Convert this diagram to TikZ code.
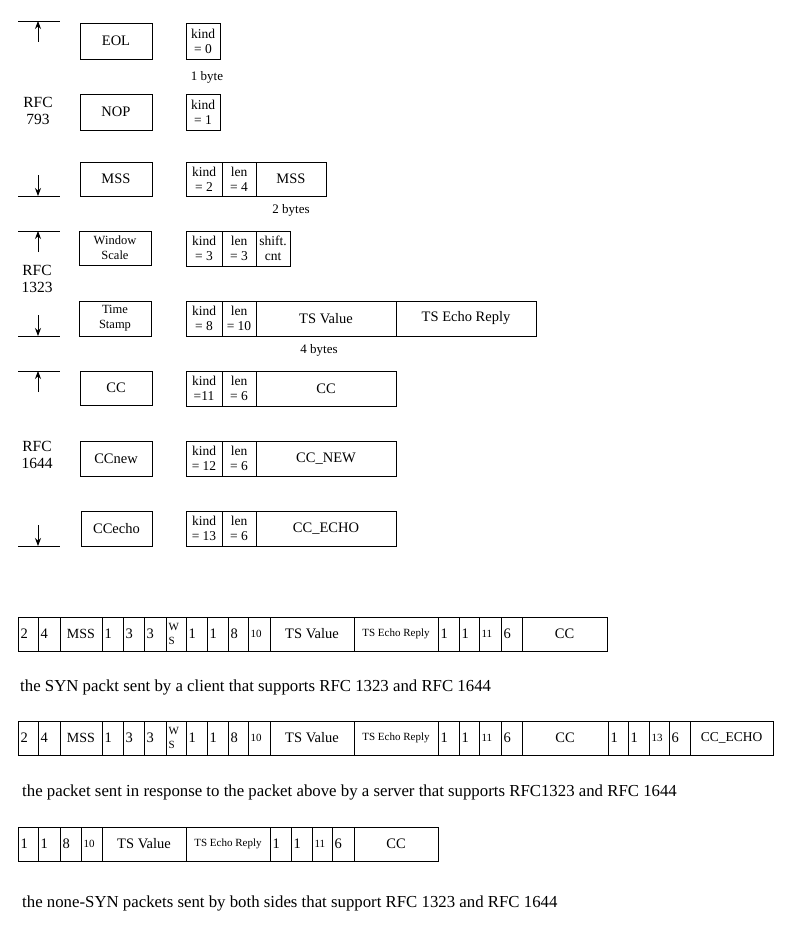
\documentclass[tikz,border=0pt]{standalone}
\usepackage{fontspec}
\setmainfont{Liberation Serif}
\usetikzlibrary{arrows.meta}
\newcommand\fsz[2]{\fontsize{#1}{#2}\selectfont}
% generic box: name, x1, x2, y1, y2, text, extra style
\newcommand\bx[7]{%
  \pgfmathsetmacro\bxw{(#3)-(#2)}\pgfmathsetmacro\bxh{(#5)-(#4)}%
  \node[box,#7,anchor=north west,minimum width=\bxw pt,minimum height=\bxh pt] (#1) at (#2,#4) {#6};}
% left aligned packet cell: name, x1, x2, text
\newcommand\pl[4]{%
  \pgfmathsetmacro\bxw{(#3)-(#2)-5}\pgfmathsetmacro\bxh{\pyb-\pya}%
  \node[box,anchor=north west,align=left,inner xsep=2.5pt,text width=\bxw pt,minimum height=\bxh pt,font=\fsz{14.5}{15}] (#1) at (#2,\pya) {#4};}
% centered packet cell: name, x1, x2, text, font
\newcommand\pcc[5]{%
  \pgfmathsetmacro\bxw{(#3)-(#2)}\pgfmathsetmacro\bxh{\pyb-\pya}%
  \node[box,anchor=north west,minimum width=\bxw pt,minimum height=\bxh pt,font=#5] (#1) at (#2,\pya) {#4};}
\begin{document}
\begin{tikzpicture}[x=1pt,y=-1pt,
  box/.style={draw,line width=0.8pt,inner sep=0pt,outer sep=0pt,align=center},
  big/.style={font=\fsz{14.5}{16}},
  two/.style={font=\fsz{13.5}{15}},
  small/.style={font=\fsz{12.5}{15}},
  lab/.style={inner sep=0pt,font=\fsz{13}{15}},
  rfc/.style={inner sep=0pt,align=center,font=\fsz{15.5}{17}},
  captext/.style={inner sep=0pt,anchor=west,font=\fsz{16.8}{19}},
  rule/.style={line width=0.8pt},
  arr/.style={line width=0.8pt,-{Stealth[length=8pt,width=6pt]}}]
\useasboundingbox (0,0) rectangle (796,939);

% ---------- RFC brackets ----------
\foreach \n/\yt/\yb in {a/21/196, b/231/336, c/371/546}{
  \coordinate (\n tl) at (18,\yt); \coordinate (\n tr) at (60,\yt);
  \coordinate (\n bl) at (18,\yb); \coordinate (\n br) at (60,\yb);
  \coordinate (\n ts) at (38,\yt+21); \coordinate (\n te) at (38,\yt);
  \coordinate (\n bs) at (38,\yb-21); \coordinate (\n be) at (38,\yb);
  \draw[rule] (\n tl) -- (\n tr);
  \draw[rule] (\n bl) -- (\n br);
  \draw[arr] (\n ts) -- (\n te);
  \draw[arr] (\n bs) -- (\n be);
}
\node[rfc] (rfc793) at (38,111) {RFC\\793};
\node[rfc] (rfc1323) at (37,279) {RFC\\1323};
\node[rfc] (rfc1644) at (37,455) {RFC\\1644};

% ---------- option names ----------
\bx{eol}{80}{152}{23}{59}{EOL}{big}
\bx{nop}{80}{152}{94}{130}{NOP}{big}
\bx{mss}{80}{152}{162}{196}{MSS}{big}
\bx{ws}{79}{151}{231}{265}{Window\\Scale}{small}
\bx{ts}{79}{151}{301}{336}{Time\\Stamp}{small}
\bx{cc}{80}{152}{371}{405}{CC}{big}
\bx{ccnew}{80}{152}{441}{476}{CCnew}{big}
\bx{ccecho}{81}{152}{511}{546}{CCecho}{big}

% ---------- option formats ----------
\bx{k0}{186}{220}{23}{59}{kind\\= 0}{two}
\node[lab] (onebyte) at (207,77) {1 byte};
\bx{k1}{186}{220}{94}{130}{kind\\= 1}{two}

\bx{k2}{186}{222}{162}{196}{kind\\= 2}{two}
\bx{l4}{222}{256}{162}{196}{len\\= 4}{two}
\bx{mssv}{256}{326}{162}{196}{MSS}{big}
\node[lab] (twobytes) at (291,210) {2 bytes};

\bx{k3}{186}{222}{231}{266}{kind\\= 3}{two}
\bx{l3}{222}{256}{231}{266}{len\\= 3}{two}
\bx{sc}{256}{290}{231}{266}{shift.\\cnt}{two}

\bx{k8}{186}{222}{301}{336}{kind\\= 8}{two}
\bx{l10}{222}{256}{301}{336}{len\\= 10}{two}
\bx{tsv}{256}{396}{301}{336}{TS Value}{big}
\bx{tse}{396}{536}{301}{336}{TS Echo Reply}{big}
\node[lab] (fourbytes) at (319,350) {4 bytes};

\bx{k11}{186}{222}{371}{406}{kind\\=11}{two}
\bx{l6a}{222}{256}{371}{406}{len\\= 6}{two}
\bx{ccv}{256}{396}{371}{406}{CC}{big}

\bx{k12}{186}{222}{441}{476}{kind\\= 12}{two}
\bx{l6b}{222}{256}{441}{476}{len\\= 6}{two}
\bx{ccnewv}{256}{396}{441}{476}{CC\_NEW}{big}

\bx{k13}{186}{222}{511}{546}{kind\\= 13}{two}
\bx{l6c}{222}{256}{511}{546}{len\\= 6}{two}
\bx{ccechov}{256}{396}{511}{546}{CC\_ECHO}{big}

% ---------- packet 1 ----------
\def\pya{617}\def\pyb{651}
\pl{pa1}{18}{38}{2}
\pl{pa2}{38}{60}{4}
\pcc{pa3}{60}{102}{MSS}{\fsz{14}{15}}
\pl{pa4}{102}{123}{1}
\pl{pa5}{123}{144}{3}
\pl{pa6}{144}{166}{3}
\pl{pa7}{166}{186}{{\fsz{11}{12}W\\[-1pt]S}}
\pl{pa8}{186}{207}{1}
\pl{pa9}{207}{228}{1}
\pl{pa10}{228}{248}{8}
\pl{pa11}{248}{270}{{\fsz{11}{12}10}}
\pcc{pa12}{270}{354}{TS Value}{\fsz{14.5}{15}}
\pcc{pa13}{354}{438}{TS Echo Reply}{\fsz{11}{12}}
\pl{pa14}{438}{459}{1}
\pl{pa15}{459}{479}{1}
\pl{pa16}{479}{501}{{\fsz{11}{12}11}}
\pl{pa17}{501}{522}{6}
\pcc{pa18}{522}{607}{CC}{\fsz{14.5}{15}}
\node[captext] (capa) at (20,687) {the SYN packt sent by a client that supports RFC 1323 and RFC 1644};

% ---------- packet 2 ----------
\def\pya{721}\def\pyb{755}
\pl{pb1}{18}{38}{2}
\pl{pb2}{38}{60}{4}
\pcc{pb3}{60}{102}{MSS}{\fsz{14}{15}}
\pl{pb4}{102}{123}{1}
\pl{pb5}{123}{144}{3}
\pl{pb6}{144}{166}{3}
\pl{pb7}{166}{186}{{\fsz{11}{12}W\\[-1pt]S}}
\pl{pb8}{186}{207}{1}
\pl{pb9}{207}{228}{1}
\pl{pb10}{228}{248}{8}
\pl{pb11}{248}{270}{{\fsz{11}{12}10}}
\pcc{pb12}{270}{354}{TS Value}{\fsz{14.5}{15}}
\pcc{pb13}{354}{438}{TS Echo Reply}{\fsz{11}{12}}
\pl{pb14}{438}{459}{1}
\pl{pb15}{459}{479}{1}
\pl{pb16}{479}{501}{{\fsz{11}{12}11}}
\pl{pb17}{501}{522}{6}
\pcc{pb18}{522}{608}{CC}{\fsz{14.5}{15}}
\pl{pb19}{608}{628}{1}
\pl{pb20}{628}{649}{1}
\pl{pb21}{649}{669}{{\fsz{11}{12}13}}
\pl{pb22}{669}{690}{6}
\pcc{pb23}{690}{773}{CC\_ECHO}{\fsz{13.5}{14}}
\node[captext] (capb) at (22,792) {the packet sent in response to the packet above by a server that supports RFC1323 and RFC 1644};

% ---------- packet 3 ----------
\def\pya{827}\def\pyb{861}
\pl{pc1}{18}{38}{1}
\pl{pc2}{38}{60}{1}
\pl{pc3}{60}{81}{8}
\pl{pc4}{81}{102}{{\fsz{11}{12}10}}
\pcc{pc5}{102}{186}{TS Value}{\fsz{14.5}{15}}
\pcc{pc6}{186}{270}{TS Echo Reply}{\fsz{11}{12}}
\pl{pc7}{270}{291}{1}
\pl{pc8}{291}{312}{1}
\pl{pc9}{312}{332}{{\fsz{11}{12}11}}
\pl{pc10}{332}{354}{6}
\pcc{pc11}{354}{438}{CC}{\fsz{14.5}{15}}
\node[captext] (capc) at (22,903) {the none-SYN packets sent by both sides that support RFC 1323 and RFC 1644};
\end{tikzpicture}
\end{document}
